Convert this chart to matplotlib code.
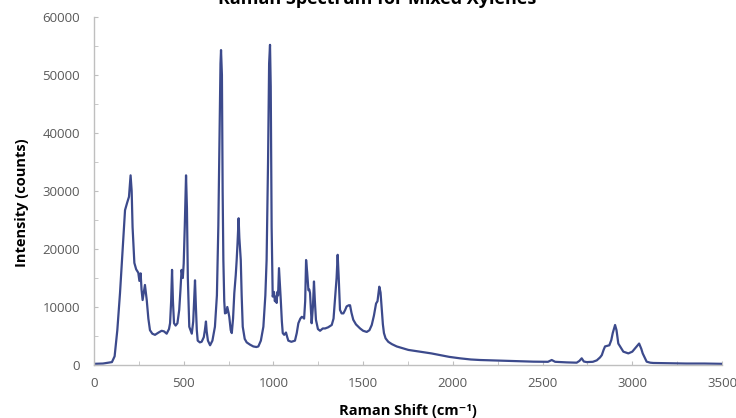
import matplotlib.pyplot as plt
from matplotlib.ticker import MultipleLocator

# Raman spectrum of mixed xylenes
shift = [
    0, 50, 80, 100, 115, 130, 145, 160, 173, 185, 195, 204, 210, 215, 225,
    235, 247, 253, 260, 265, 271, 284, 294, 303, 312, 325, 340, 360, 377,
    390, 405, 418, 424, 430, 435, 440, 446, 455, 465, 475, 482, 488, 495,
    500, 506, 513, 518, 523, 531, 545, 553, 558, 563, 568, 573, 578, 590,
    600, 612, 618, 624, 628, 635, 647, 660, 674, 685, 693, 700, 705, 708,
    713, 717, 721, 726, 730, 737, 743, 750, 754, 762, 768, 775, 782, 790,
    795, 800, 806, 810, 818, 823, 829, 840, 851, 870, 888, 905, 916, 930,
    944, 955, 962, 970, 976, 981, 985, 990, 996, 1003, 1008, 1014, 1018,
    1022, 1026, 1031, 1036, 1041, 1047, 1052, 1060, 1070, 1077, 1083, 1100,
    1120, 1130, 1139, 1150, 1158, 1165, 1171, 1177, 1182, 1188, 1195, 1200,
    1204, 1208, 1213, 1220, 1226, 1231, 1237, 1248, 1260, 1275, 1288, 1305,
    1325, 1335, 1343, 1352, 1358, 1364, 1371, 1380, 1390, 1400, 1408, 1420,
    1427, 1435, 1445, 1460, 1483, 1500, 1520, 1535, 1548, 1560, 1572, 1580,
    1590, 1597, 1604, 1610, 1616, 1625, 1640, 1660, 1687, 1720, 1752, 1817,
    1880, 1929, 1980, 2040, 2100, 2152, 2263, 2350, 2450, 2530, 2551, 2570,
    2635, 2690, 2705, 2718, 2730, 2746, 2780, 2802, 2820, 2830, 2840, 2848,
    2860, 2872, 2883, 2891, 2904, 2912, 2922, 2950, 2978, 3000, 3016, 3038,
    3050, 3058, 3070, 3080, 3100, 3117, 3200, 3300, 3400, 3500,
]
intensity = [
    200, 250, 400, 500, 1500, 6000, 12400, 20000, 26700, 28000, 29000, 32700,
    30000, 23800, 17600, 16500, 15900, 14500, 15800, 13000, 11200, 13800,
    11200, 8000, 6000, 5400, 5200, 5600, 5900, 5800, 5400, 6200, 7200, 11000,
    16400, 11000, 7200, 6800, 7200, 9500, 13000, 16400, 15000, 17500, 24000,
    32700, 27000, 15000, 6600, 5400, 7500, 11000, 14600, 10000, 6000, 4200,
    3900, 4000, 4800, 6000, 7500, 5800, 4200, 3400, 4200, 6600, 12000, 24000,
    40000, 52000, 54300, 50000, 30000, 18100, 11000, 8900, 9000, 10000, 9000,
    8300, 6000, 5500, 8000, 12400, 15500, 18000, 21000, 25300, 22000, 18100,
    12000, 6600, 4500, 3900, 3500, 3200, 3100, 3200, 4200, 6600, 12000, 18100,
    35000, 52000, 55200, 48000, 23800, 11800, 12600, 11000, 11800, 10700,
    12600, 12000, 16700, 14000, 11200, 7500, 5500, 5200, 5600, 4800, 4200,
    4000, 4200, 5500, 7200, 8000, 8300, 8200, 8000, 11000, 18100, 16000,
    12900, 13000, 12400, 10000, 7200, 10000, 14400, 11000, 7800, 6200, 5900,
    6300, 6300, 6500, 6900, 8000, 11200, 15000, 19000, 15000, 9500, 8900,
    8900, 9500, 10100, 10300, 10300, 9000, 7800, 7000, 6300, 5900, 5700, 6000,
    6900, 8500, 10600, 11000, 13500, 12500, 9500, 7000, 5500, 4600, 4000,
    3600, 3200, 2900, 2600, 2300, 2000, 1700, 1400, 1150, 950, 860, 750, 650,
    575, 550, 860, 550, 450, 400, 700, 1150, 600, 500, 550, 800, 1300, 1700,
    2600, 3200, 3300, 3400, 4300, 5500, 6900, 6000, 3700, 2300, 2000, 2300,
    2900, 3700, 2800, 2000, 1200, 570, 400, 350, 300, 250, 250, 200,
]

plt.rcParams['font.family'] = ['Open Sans', 'DejaVu Sans']

fig = plt.figure(figsize=(7.36, 4.18), dpi=100)
ax = fig.add_axes([0.1277, 0.1268, 0.8533, 0.8325])

ax.plot(shift, intensity, color='#3C4A8C', linewidth=1.6)

ax.set_xlim(0, 3500)
ax.set_ylim(0, 60000)
ax.xaxis.set_major_locator(MultipleLocator(500))
ax.xaxis.set_minor_locator(MultipleLocator(250))
ax.yaxis.set_major_locator(MultipleLocator(10000))
ax.yaxis.set_minor_locator(MultipleLocator(5000))

for s in ['top', 'right']:
    ax.spines[s].set_visible(False)
for s in ['left', 'bottom']:
    ax.spines[s].set_color('#BFBFBF')
    ax.spines[s].set_linewidth(1)

ax.tick_params(which='both', direction='in', length=3, color='#BFBFBF',
               labelcolor='#595959', labelsize=9.5)
ax.tick_params(axis='y', pad=10)
ax.tick_params(axis='x', pad=9)

fig.text(0.512, 1.003, 'Raman Spectrum for Mixed Xylenes', ha='center',
         va='center', fontsize=13, fontweight='bold')
fig.text(0.554, 0.016, 'Raman Shift (cm⁻¹)', ha='center', va='center',
         fontsize=10.5, fontweight='bold')
fig.text(0.03, 0.514, 'Intensity (counts)', ha='center', va='center',
         rotation=90, fontsize=10.5, fontweight='bold')

fig.savefig('out.png', dpi=100)
